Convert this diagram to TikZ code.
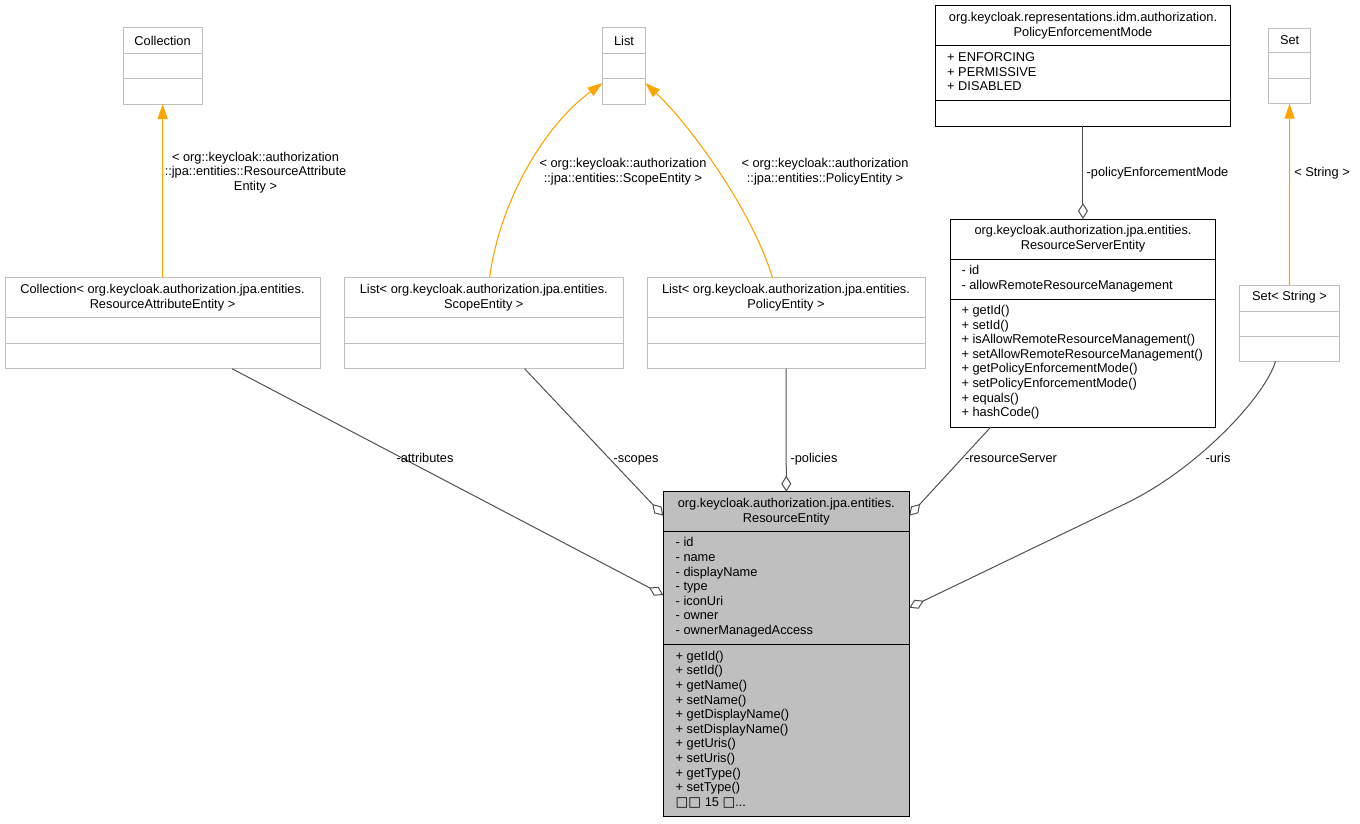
\documentclass[tikz,border=0pt]{standalone}
\usepackage{fontspec}
\setmainfont{Liberation Sans}
\newfontfamily\dvs{DejaVu Sans}
\usetikzlibrary{arrows.meta,calc}
\definecolor{lgray}{HTML}{BFBFBF}
\definecolor{egray}{HTML}{505050}
\definecolor{orng}{HTML}{FFA500}
\definecolor{mfill}{HTML}{BFBFBF}
\newcommand\ubox[8]{%
  \node[#1box,minimum width={(#5)-(#3)},minimum height={(#8)-(#4)}] (#2) at (#3,#4) {};
  \draw[#1sep] (#3,#6) -- (#5,#6) (#3,#7) -- (#5,#7);}
\newcommand\tofu{{\dvs\fontsize{13.5}{14.6}\selectfont □}}
\begin{document}
\begin{tikzpicture}[x=1pt,y=-1pt,
  lbox/.style={draw=lgray,line width=1pt,fill=white,inner sep=0pt,outer sep=0pt,anchor=north west},
  dbox/.style={lbox,draw=black},
  mbox/.style={lbox,draw=black,fill=mfill},
  lsep/.style={draw=lgray,line width=1pt},
  dsep/.style={draw=black,line width=1pt},
  msep/.style={dsep},
  txt/.style={font=\fontsize{12.8}{14.6}\selectfont,inner sep=0pt,outer sep=0pt,yshift=5.7pt},
  ttl/.style={txt,align=center,anchor=north},
  mem/.style={txt,align=left,anchor=north west},
  lab/.style={txt,align=center,anchor=north},
  agg/.style={draw=egray,line width=1pt,-{Diamond[length=16pt,width=10pt,fill=white]}},
  inh/.style={draw=orng,line width=1.1pt,-{Triangle[length=15pt,width=10pt,fill=orng]}}]
\useasboundingbox (0,0) rectangle (1360,823);
% boxes
\ubox{l}{coll}{123.3}{27.3}{202}{53.3}{78.7}{104}
\ubox{l}{list}{602.5}{27.3}{645.4}{53.3}{78.7}{104}
\ubox{l}{set}{1268.4}{28}{1310.8}{52.7}{78.7}{103.7}
\ubox{d}{pem}{935.6}{5.7}{1230.3}{45.7}{100.3}{126}
\ubox{d}{rse}{950.5}{219}{1215.4}{259}{299}{427.3}
\ubox{l}{setS}{1239.6}{285}{1339.3}{311}{336}{361}
\ubox{l}{coll2}{5}{277.7}{320}{317.7}{343.3}{368.7}
\ubox{l}{scope}{344.6}{277.7}{623}{317.7}{343.3}{368.7}
\ubox{l}{policy}{647}{277.7}{925}{317.7}{343.3}{368.7}
\ubox{m}{re}{663.3}{491.7}{909.3}{531.7}{644.3}{816}
% texts
\node[ttl] (collT) at (162.6,40.5) {\strut Collection};
\node[ttl] (listT) at (624,40.5) {\strut List};
\node[ttl] (setT) at (1289.6,40) {\strut Set};
\node[ttl] (pemT) at (1083,17.3) {\strut org.keycloak.representations.idm.authorization.\\PolicyEnforcementMode};
\node[mem] (pemA) at (947.2,57) {\strut + ENFORCING\\+ PERMISSIVE\\+ DISABLED};
\node[ttl] (rseT) at (1083,230.3) {\strut org.keycloak.authorization.jpa.entities.\\ResourceServerEntity};
\node[mem] (rseA) at (961.5,270) {\strut - id\\- allowRemoteResourceManagement};
\node[mem] (rseM) at (961.5,310) {\strut + getId()\\+ setId()\\+ isAllowRemoteResourceManagement()\\+ setAllowRemoteResourceManagement()\\+ getPolicyEnforcementMode()\\+ setPolicyEnforcementMode()\\+ equals()\\+ hashCode()};
\node[ttl] (setST) at (1289.5,296) {\strut Set< String >};
\node[ttl] (coll2T) at (162.5,289) {\strut Collection< org.keycloak.authorization.jpa.entities.\\ResourceAttributeEntity >};
\node[ttl] (scopeT) at (483.8,289) {\strut List< org.keycloak.authorization.jpa.entities.\\ScopeEntity >};
\node[ttl] (policyT) at (786,289) {\strut List< org.keycloak.authorization.jpa.entities.\\PolicyEntity >};
\node[ttl] (reT) at (786.3,503.3) {\strut org.keycloak.authorization.jpa.entities.\\ResourceEntity};
\node[mem] (reA) at (675.7,542.3) {\strut - id\\- name\\- displayName\\- type\\- iconUri\\- owner\\- ownerManagedAccess};
\node[mem] (reM) at (675.7,655.7) {\strut + getId()\\+ setId()\\+ getName()\\+ setName()\\+ getDisplayName()\\+ setDisplayName()\\+ getUris()\\+ setUris()\\+ getType()\\+ setType()\\\tofu\tofu{} 15 \tofu...};
% inheritance edges
\draw[inh] (coll2.north) -- (coll.south);
\draw[inh] (setS.north) -- (set.south);
\draw[inh] ($(scope.north west)+(145,0)$) .. controls (500,200) and (545,125) .. ($(list.south west)+(0,-21)$);
\draw[inh] ($(policy.north west)+(125.5,0)$) .. controls (752,210) and (690,125) .. ($(list.south east)+(0,-21)$);
\node[lab] (l1) at (255.5,156.7) {\strut < org::keycloak::authorization\\::jpa::entities::ResourceAttribute\\Entity >};
\node[lab] (l2) at (623,163) {\strut < org::keycloak::authorization\\::jpa::entities::ScopeEntity >};
\node[lab] (l3) at (825,163) {\strut < org::keycloak::authorization\\::jpa::entities::PolicyEntity >};
\node[lab] (l4) at (1322,171.7) {\strut < String >};
% aggregation edges
\draw[agg] (pem.south) -- (rse.north);
\draw[agg] ($(coll2.south west)+(227,0)$) -- ($(re.north west)+(0,103.3)$);
\draw[agg] ($(scope.south west)+(180,0)$) -- ($(re.north west)+(0,24)$);
\draw[agg] (policy.south) -- (re.north);
\draw[agg] ($(rse.south west)+(40,0)$) -- ($(re.north east)+(0,24)$);
\draw[agg] ($(setS.south west)+(36,0)$) .. controls (1266,395) and (1199,468) .. (1126.7,503) -- ($(re.north east)+(0,116)$);
\node[lab] (l5) at (1157.5,171.7) {\strut -policyEnforcementMode};
\node[lab] (l6) at (425,458) {\strut -attributes};
\node[lab] (l7) at (636,458) {\strut -scopes};
\node[lab] (l8) at (814,458) {\strut -policies};
\node[lab] (l9) at (1011,458) {\strut -resourceServer};
\node[lab] (l10) at (1218,458) {\strut -uris};
\end{tikzpicture}
\end{document}
